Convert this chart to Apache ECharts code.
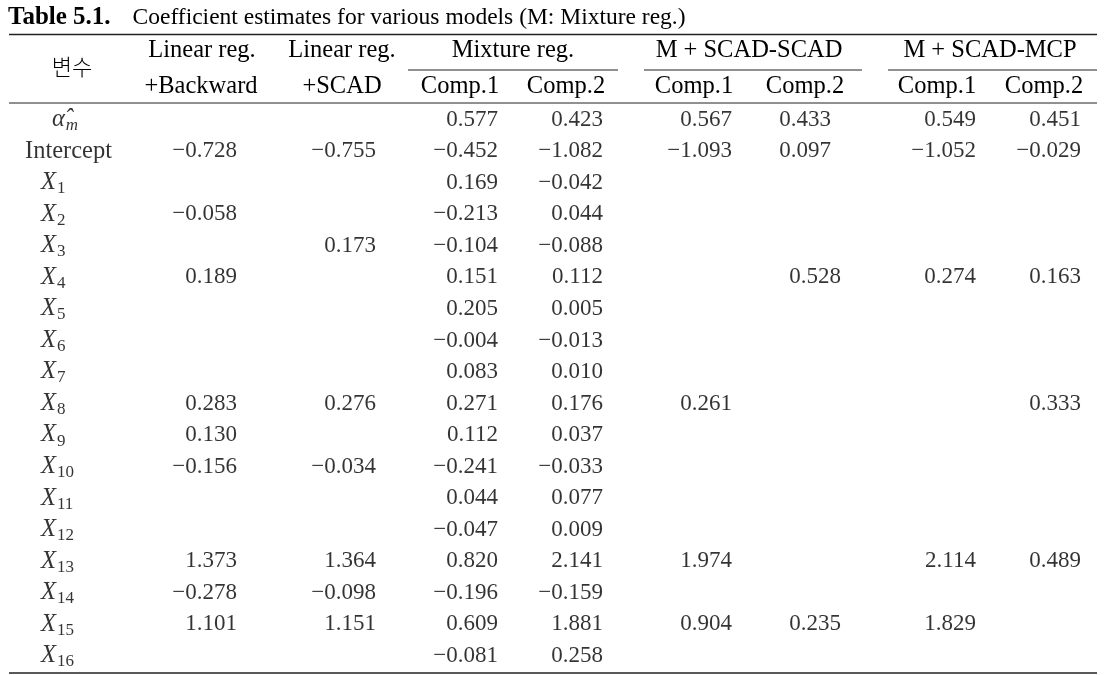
<!DOCTYPE html>
<html><head><meta charset="utf-8">
<script src="https://cdn.jsdelivr.net/npm/echarts@6/dist/echarts.min.js"></script>
<style>html,body{margin:0;padding:0;background:#fff}#c{width:1116px;height:675px}</style>
</head><body><div id="c"></div>
<script>
// ---------- data ----------
const rowKeys = ['alpha','Intercept','X1','X2','X3','X4','X5','X6','X7','X8','X9','X10','X11','X12','X13','X14','X15','X16'];
const topHeaders = ['Linear reg.','Linear reg.','Mixture reg.','M + SCAD-SCAD','M + SCAD-MCP'];
const subHeaders = ['+Backward','+SCAD','Comp.1','Comp.2','Comp.1','Comp.2','Comp.1','Comp.2'];
const linBackward = [null,-0.728,null,-0.058,null,0.189,null,null,null,0.283,0.130,-0.156,null,null,1.373,-0.278,1.101,null];
const linScad     = [null,-0.755,null,null,0.173,null,null,null,null,0.276,null,-0.034,null,null,1.364,-0.098,1.151,null];
const mixC1 = [0.577,-0.452,0.169,-0.213,-0.104,0.151,0.205,-0.004,0.083,0.271,0.112,-0.241,0.044,-0.047,0.820,-0.196,0.609,-0.081];
const mixC2 = [0.423,-1.082,-0.042,0.044,-0.088,0.112,0.005,-0.013,0.010,0.176,0.037,-0.033,0.077,0.009,2.141,-0.159,1.881,0.258];
const ssC1  = [0.567,-1.093,null,null,null,null,null,null,null,0.261,null,null,null,null,1.974,null,0.904,null];
const ssC2  = [0.433,0.097,null,null,null,0.528,null,null,null,null,null,null,null,null,null,null,0.235,null];
const mcC1  = [0.549,-1.052,null,null,null,0.274,null,null,null,null,null,null,null,null,2.114,null,1.829,null];
const mcC2  = [0.451,-0.029,null,null,null,0.163,null,null,null,0.333,null,null,null,null,0.489,null,null,null];
const titleBold = 'Table 5.1.';
const titleText = 'Coefficient estimates for various models (M: Mixture reg.)';
const varHeader = '변수';

// ---------- layout / style ----------
const columns = [linBackward, linScad, mixC1, mixC2, ssC1, ssC2, mcC1, mcC2];
const colRight = [237, 376, 498, 603, 732, 841, 976, 1081];
const cellNudge = {'5-0': -10, '5-1': -10}; // column-row : x shift
const topHeaderX = [202, 342, 513, 749, 990];
const subHeaderX = [201, 342, 460, 566, 694, 805, 937, 1044];
const SERIF = '"Liberation Serif", "Times New Roman", serif';
const FS = 23;   // numbers
const FT = 24.5; // words
const INK = '#000';

function fmt(v){ return (v < 0 ? '\u2212' : '') + Math.abs(v).toFixed(3); }
function rowLabel(k){
  if (k === 'alpha') return '{it|\u03B1\u0302}{subi|m}';
  if (k === 'Intercept') return '{n|Intercept}';
  return '{it|X}{sub|' + k.slice(1) + '}';
}
function rowLeft(k){ return k === 'Intercept' ? 25 : (k === 'alpha' ? 52 : 41); }

const series = [];
columns.forEach((col, ci) => {
  const data = [];
  col.forEach((v, ri) => {
    if (v === null) return;
    data.push([colRight[ci] + (cellNudge[ci + '-' + ri] || 0), rowKeys[ri], fmt(v)]);
  });
  series.push({
    type: 'scatter', symbolSize: 0, silent: true, data,
    label: { show: true, position: 'left', distance: 0, offset: [0, 1],
      formatter: p => p.value[2], color: INK, fontFamily: SERIF, fontSize: FS }
  });
});
series.push({
  type: 'scatter', symbolSize: 0, silent: true,
  data: rowKeys.map(k => [rowLeft(k), k, rowLabel(k)]),
  label: { show: true, position: 'right', distance: 0, offset: [0, 1],
    formatter: p => p.value[2], color: INK,
    rich: {
      n: { fontFamily: SERIF, fontSize: FT, color: INK },
      it: { fontFamily: SERIF, fontSize: FT, fontStyle: 'italic', color: INK },
      sub: { fontFamily: SERIF, fontSize: 17, color: INK, padding: [12, 0, 0, 1] },
      subi: { fontFamily: SERIF, fontSize: 17, fontStyle: 'italic', color: INK, padding: [12, 0, 0, 1] }
    } }
});

const graphic = [];
function line(x1, x2, y, w){
  graphic.push({ type: 'line', silent: true, shape: {x1, y1: y, x2, y2: y}, style: {stroke: '#222', lineWidth: w} });
}
function text(t, x, y, font){
  graphic.push({ type: 'text', silent: true, style: { text: t, x, y, align: 'center', verticalAlign: 'middle', font, fill: INK } });
}
line(9, 1097, 34.5, 1.6);
line(9, 1097, 103, 1);
line(9, 1097, 673, 1.6);
line(408, 618, 70, 1);
line(644, 862, 70, 1);
line(888, 1097, 70, 1);
topHeaders.forEach((h, i) => text(h, topHeaderX[i], 51, FT + 'px ' + SERIF));
subHeaders.forEach((h, i) => text(h, subHeaderX[i], 87, FT + 'px ' + SERIF));
text(varHeader, 72, 67, '300 22px "Noto Sans CJK KR"');

const chart = echarts.init(document.getElementById('c'), null, {renderer: 'canvas'});
chart.setOption({
  animation: false,
  backgroundColor: '#fff',
  title: {
    text: '{b|' + titleBold + '}{n|' + titleText + '}', left: 3, top: 0,
    textStyle: { rich: {
      b: { fontFamily: SERIF, fontSize: 25, fontWeight: 'bold', color: INK, padding: [0, 22, 0, 0] },
      n: { fontFamily: SERIF, fontSize: 23.5, fontWeight: 'normal', color: INK }
    } }
  },
  grid: { left: 0, right: 0, top: 103, height: 567.5 },
  xAxis: { type: 'value', min: 0, max: 1116, show: false },
  yAxis: { type: 'category', data: rowKeys, inverse: true, show: false },
  series,
  graphic
});
</script></body></html>
